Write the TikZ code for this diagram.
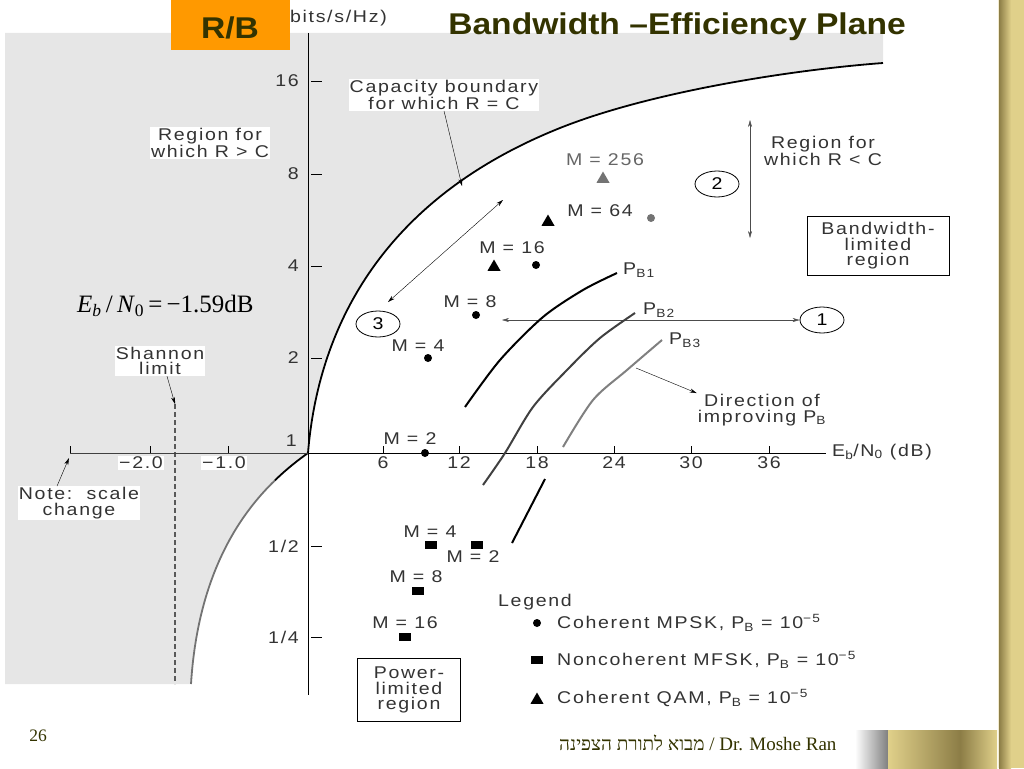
\documentclass[tikz,border=0pt]{standalone}
\usepackage{fontspec}
\usepackage{tikz}
\usetikzlibrary{shapes.geometric,arrows.meta}
\setmainfont{Liberation Serif}
\newfontfamily\titlefont[FakeStretch=1.12]{Liberation Sans}
\newfontfamily\plotfont[FakeStretch=1.15,LetterSpace=10]{Liberation Sans}
\newfontfamily\hebfont[Script=Hebrew]{Liberation Serif}
\TeXXeTstate=1
\definecolor{titleolive}{RGB}{51,51,0}
\definecolor{rbbox}{RGB}{255,153,0}
\definecolor{goldlt}{RGB}{224,208,138}
\definecolor{golddk}{RGB}{140,125,70}
\definecolor{stipple}{RGB}{230,230,230}
\begin{document}
\begin{tikzpicture}[x=1pt,y=-1pt,
    lbl/.style={font=\plotfont\fontsize{17}{15.5}\selectfont, text=black!80, align=center, inner sep=1pt},
    wlbl/.style={lbl, fill=white},
    mpsk/.style={circle, fill=black, inner sep=0pt, minimum size=8pt},
    mfsk/.style={rectangle, fill=black, inner sep=0pt, minimum width=12pt, minimum height=8pt},
    qam/.style={regular polygon, regular polygon sides=3, fill=black, inner sep=0pt, minimum size=15pt},
    ring/.style={ellipse, draw, thick, minimum width=44pt, minimum height=26pt, inner sep=0pt, font=\plotfont\fontsize{17}{15.5}\selectfont},
    regbox/.style={lbl, draw, thick, inner sep=2pt},
    pcurve/.style={line width=2pt},
    arr/.style={-{Stealth[length=7pt,width=4pt]}, thin},
    darr/.style={{Stealth[length=7pt,width=4pt]}-{Stealth[length=7pt,width=4pt]}, thin}]
  \useasboundingbox (0,0) rectangle (1024,768);
  % shaded region R > C
  \fill[stipple] (5,33) -- (883,33) -- (883,63) .. controls (790,70) and (650,92) .. (560,128) .. controls (380,200) and (318,330) .. (308,453) .. controls (270,480) and (200,540) .. (191,684) -- (5,684) -- cycle;
  \node[wlbl] (capLbl) at (444,95) {Capacity boundary\\for which R = C};
  \node[wlbl] (gtLbl) at (210,143) {Region for\\which R > C};
  \node[wlbl] (shLbl) at (160,361) {Shannon\\limit};
  \node[wlbl] (noteLbl) at (79,503) {Note:\ \ scale\\change};
  \node[wlbl] (xm2) at (141,463) {−2.0};
  \node[wlbl] (xm1) at (224,463) {−1.0};
  % capacity boundary
  \draw[line width=1.8pt, black!55] (275,480.3) .. controls (238.8,515.25) and (197.75,576) .. (191,684);
  \draw[line width=1.8pt] (308,453) .. controls (298.5,459.75) and (287,468.6) .. (275,480.3);
  \draw[line width=1.8pt] (308,453) .. controls (318,330) and (380,200) .. (560,128) .. controls (650,92) and (790,70) .. (883,63);
  % shannon limit
  \coordinate (shTop) at (175,404);
  \draw[black!65, line width=1.3pt, dash pattern=on 5pt off 3pt] (shTop) -- (175,684);
  % axes
  \draw[thick] (308,33) -- (308,695);
  \draw[thick] (308,453) -- (826,453);
  \draw[black!75] (70,453) -- (308,453);
  \foreach \yy/\tl [count=\i] in {81/16,174/8,266/4,358/2,546/{1/2},637/{1/4}} {
    \draw (311,\yy) -- (322,\yy);
    \node[lbl, anchor=east] (ylab\i) at (300,\yy) {\tl};
  }
  \node[lbl, anchor=east] (ylab0) at (298,441) {1};
  \foreach \xx/\tl [count=\i] in {383/6,459/12,537/18,614/24,691/30,769/36} {
    \draw (\xx,453) -- (\xx,446);
    \node[lbl] (xlab\i) at (\xx,463) {\tl};
  }
  \foreach \xx in {70,150,228}
    \draw (\xx,453) -- (\xx,446);
  \node[lbl, anchor=west] (xAxisLbl) at (831,452) {E\textsubscript{b}/N\textsubscript{0} (dB)};
  \node[lbl, anchor=east] (yAxisLbl) at (388,18) {(bits/s/Hz)};
  % arrows to labels
  \coordinate (capPt) at (462,186);
  \coordinate (axEnd) at (69,458);
  \draw[arr] (capLbl.south) -- (capPt);
  \draw[arr] ([xshift=7pt]shLbl.south) -- (shTop);
  \draw[arr] ([xshift=-22pt]noteLbl.north) -- (axEnd);
  % regions
  \node[ring] (r3) at (378,324) {3};
  \node[ring] (r2) at (717,184) {2};
  \node[ring] (r1) at (822,320) {1};
  \coordinate (a3lo) at (388,302);
  \coordinate (a3hi) at (503,200);
  \coordinate (a1lo) at (502,320);
  \coordinate (a2top) at (750,120);
  \coordinate (a2bot) at (750,238);
  \draw[darr] (a3lo) -- (a3hi);
  \draw[darr, black!70] (a1lo) -- (r1.west);
  \draw[darr, black!70] (a2top) -- (a2bot);
  \node[lbl] (ltLbl) at (823,151) {Region for\\which R < C};
  \node[regbox, minimum width=142pt, minimum height=59pt] (bwBox) at (878,246) {Bandwidth-\\limited\\region};
  \node[regbox, minimum width=103pt, minimum height=63pt] (pwBox) at (409,690) {Power-\\limited\\region};
  % P_B curves
  \draw[pcurve] plot[smooth] coordinates {(465,407) (500,360) (543,317) (583,290) (617,273)};
  \draw[pcurve, black!75] plot[smooth] coordinates {(483,485) (505,453) (533,407) (567,370) (600,338) (635,313)};
  \draw[pcurve, black!50] plot[smooth] coordinates {(563,447) (593,400) (627,370) (662,340)};
  \draw[pcurve] (545,479) -- (512,543);
  \node[lbl, anchor=west] (pb1) at (622,270) {P\textsubscript{B1}};
  \node[lbl, anchor=west] (pb2) at (642,310) {P\textsubscript{B2}};
  \node[lbl, anchor=west] (pb3) at (668,340) {P\textsubscript{B3}};
  \node[lbl] (dirLbl) at (762,410) {Direction of\\improving P\textsubscript{B}};
  \coordinate (dirSt) at (636,368);
  \draw[arr] (dirSt) -- (dirLbl.north west);
  % points
  \node[lbl, text=black!60] (l256) at (605,160) {M = 256};
  \node[qam, fill=black!55] (q256) at (603,179) {};
  \node[lbl] (l64) at (600,211) {M = 64};
  \node[qam] (q64) at (548,222) {};
  \node[mpsk, fill=black!55] (p64) at (651,218) {};
  \node[lbl] (l16) at (512,248) {M = 16};
  \node[qam] (q16) at (494,267) {};
  \node[mpsk] (p16) at (536,265) {};
  \node[lbl] (l8) at (470,302) {M = 8};
  \node[mpsk] (p8) at (476,315) {};
  \node[lbl] (l4) at (418,346) {M = 4};
  \node[mpsk] (p4) at (428,358) {};
  \node[lbl] (l2) at (410,439) {M = 2};
  \node[mpsk] (p2) at (425,453) {};
  \node[lbl] (f4l) at (430,532) {M = 4};
  \node[mfsk] (f4) at (431,545) {};
  \node[mfsk] (f2) at (477,545) {};
  \node[lbl] (f2l) at (473,557) {M = 2};
  \node[lbl] (f8l) at (416,577) {M = 8};
  \node[mfsk] (f8) at (418,591) {};
  \node[lbl] (f16l) at (405,623) {M = 16};
  \node[mfsk] (f16) at (405,637) {};
  % legend
  \node[lbl] (legTitle) at (535,602) {Legend};
  \node[mpsk] (leg1) at (537,623) {};
  \node[mfsk] (leg2) at (537,660) {};
  \node[qam] (leg3) at (537,700) {};
  \node[lbl, anchor=west] (leg1t) at (556,623) {Coherent MPSK, P\textsubscript{B} = 10\textsuperscript{−5}};
  \node[lbl, anchor=west] (leg2t) at (556,660) {Noncoherent MFSK, P\textsubscript{B} = 10\textsuperscript{−5}};
  \node[lbl, anchor=west] (leg3t) at (556,698) {Coherent QAM, P\textsubscript{B} = 10\textsuperscript{−5}};
  \node[font=\fontsize{25}{28}\selectfont, anchor=west, inner sep=0pt] (ebn0) at (77,306) {\textit{E}\textsubscript{\textit{b}}\,/\,\textit{N}\textsubscript{0}\,=\,−1.59dB};
  % slide frame
  \fill[rbbox] (171,0) rectangle (290,50);
  \node[font=\titlefont\bfseries\fontsize{30}{32}\selectfont, text=titleolive, anchor=base] (rb) at (230,38) {R/B};
  \node[font=\titlefont\bfseries\fontsize{30}{32}\selectfont, text=titleolive, anchor=base] (title) at (677,35) {Bandwidth –Efficiency Plane};
  \node[font=\fontsize{17.5}{19}\selectfont, text=titleolive, anchor=base] (pg) at (38,741) {26};
  \node[font=\fontsize{19}{21}\selectfont, text=titleolive, anchor=base east] (foot) at (840,750) {{\hebfont\beginR מבוא לתורת הצפינה\endR} / Dr. Moshe Ran};
  \shade[left color=golddk, right color=goldlt] (999,0) rectangle (1011,768);
  \fill[goldlt] (1011,0) rectangle (1024,768);
  \draw[goldlt!40!white, line width=1pt] (998,0) -- (998,768);
  \shade[left color=white, right color=black!50] (855,730) rectangle (888,768);
  \shade[left color=goldlt, right color=golddk] (888,730) rectangle (960,768);
  \shade[left color=golddk, right color=goldlt] (960,730) rectangle (997,768);
\end{tikzpicture}
\end{document}
